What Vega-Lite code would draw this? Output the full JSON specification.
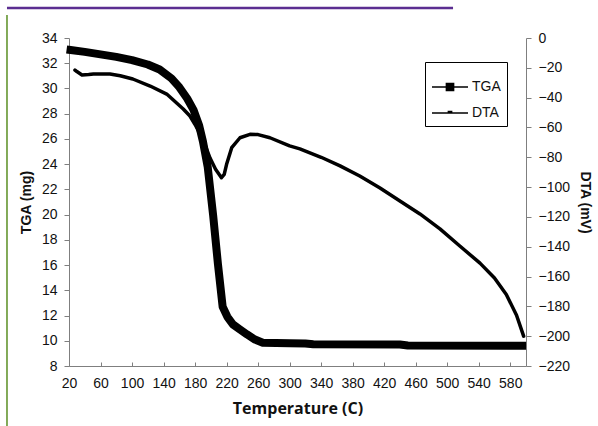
{
  "$schema": "https://vega.github.io/schema/vega-lite/v6.json",
  "autosize": "none",
  "width": 457,
  "height": 328,
  "padding": {"left": 69, "top": 38, "right": 72, "bottom": 60},
  "background": "white",
  "config": {
    "view": {"stroke": null},
    "font": "Liberation Sans",
    "axis": {
      "grid": false,
      "labelOverlap": false,
      "domainColor": "#7f7f7f",
      "tickColor": "#7f7f7f",
      "labelColor": "#111",
      "labelFont": "Liberation Sans",
      "labelFontSize": 14,
      "titleColor": "#111",
      "titleFont": "Liberation Sans",
      "titleFontSize": 14,
      "titleFontWeight": "bold"
    }
  },
  "datasets": {
    "tga": [
      {"T": 22, "TGA": 33.05}, {"T": 40, "TGA": 32.9}, {"T": 60, "TGA": 32.7},
      {"T": 80, "TGA": 32.5}, {"T": 100, "TGA": 32.25}, {"T": 120, "TGA": 31.9},
      {"T": 135, "TGA": 31.5}, {"T": 150, "TGA": 30.8}, {"T": 160, "TGA": 30.1},
      {"T": 170, "TGA": 29.2}, {"T": 178, "TGA": 28.3}, {"T": 185, "TGA": 27.1},
      {"T": 190, "TGA": 25.8}, {"T": 196, "TGA": 23.8}, {"T": 203, "TGA": 19.9},
      {"T": 209, "TGA": 16.1}, {"T": 215, "TGA": 12.7}, {"T": 221, "TGA": 11.9},
      {"T": 228, "TGA": 11.3}, {"T": 237, "TGA": 10.9}, {"T": 246, "TGA": 10.5},
      {"T": 256, "TGA": 10.1}, {"T": 266, "TGA": 9.85}, {"T": 300, "TGA": 9.8},
      {"T": 320, "TGA": 9.78}, {"T": 330, "TGA": 9.72}, {"T": 440, "TGA": 9.7},
      {"T": 450, "TGA": 9.62}, {"T": 595, "TGA": 9.6}
    ],
    "dta": [
      {"T": 27.6, "DTA": -21.5}, {"T": 30, "DTA": -22.5}, {"T": 36.5, "DTA": -24.8},
      {"T": 45, "DTA": -24.5}, {"T": 51, "DTA": -24.1}, {"T": 72, "DTA": -24.1},
      {"T": 85, "DTA": -25.3}, {"T": 101, "DTA": -27.5}, {"T": 123, "DTA": -32.2},
      {"T": 144, "DTA": -37.6}, {"T": 165, "DTA": -47.6}, {"T": 173.5, "DTA": -52.3},
      {"T": 180, "DTA": -58}, {"T": 190, "DTA": -68}, {"T": 199, "DTA": -80.5},
      {"T": 206, "DTA": -88}, {"T": 213.5, "DTA": -93.7}, {"T": 217, "DTA": -91.5},
      {"T": 220, "DTA": -84.7}, {"T": 226.5, "DTA": -73.6}, {"T": 237, "DTA": -66.9},
      {"T": 249.7, "DTA": -64.6}, {"T": 260, "DTA": -64.8}, {"T": 275, "DTA": -66.9},
      {"T": 300, "DTA": -72.4}, {"T": 313, "DTA": -74.4}, {"T": 340, "DTA": -80},
      {"T": 364, "DTA": -85.8}, {"T": 389, "DTA": -92.6}, {"T": 414.7, "DTA": -100.6},
      {"T": 440, "DTA": -109.3}, {"T": 465.4, "DTA": -118}, {"T": 490.8, "DTA": -128},
      {"T": 516, "DTA": -139.5}, {"T": 541.6, "DTA": -151}, {"T": 560, "DTA": -161},
      {"T": 575, "DTA": -172}, {"T": 588, "DTA": -186}, {"T": 597, "DTA": -200}
    ]
  },
  "layer": [
    {
      "data": {"name": "tga"},
      "mark": {"type": "line", "strokeWidth": 8, "strokeJoin": "round", "strokeCap": "square"},
      "encoding": {
        "x": {
          "field": "T", "type": "quantitative",
          "scale": {"domain": [20, 600], "nice": false, "zero": false},
          "axis": {
            "title": "Temperature (C)",
            "titleFont": "Open Sans", "titleFontSize": 16, "titleFontWeight": "bold",
            "values": [20, 60, 100, 140, 180, 220, 260, 300, 340, 380, 420, 460, 500, 540, 580],
            "labelOverlap": false, "labelFlush": false,
            "tickSize": -4, "labelPadding": 14, "titlePadding": 10
          }
        },
        "y": {
          "field": "TGA", "type": "quantitative",
          "scale": {"domain": [8, 34], "nice": false, "zero": false},
          "axis": {
            "title": "TGA (mg)",
            "values": [8, 10, 12, 14, 16, 18, 20, 22, 24, 26, 28, 30, 32, 34],
            "labelOverlap": false, "labelFlush": false,
            "tickSize": 5, "labelPadding": 7, "titlePadding": 8
          }
        },
        "color": {
          "datum": "TGA",
          "scale": {"domain": ["TGA", "DTA"], "range": ["black", "black"]},
          "legend": {
            "title": null,
            "orient": "none",
            "legendX": 356,
            "legendY": 24,
            "strokeColor": "black",
            "fillColor": "white",
            "padding": 6,
            "symbolSize": 1296,
            "symbolType": "M-1,0H1",
            "rowPadding": -8,
            "labelOffset": 3,
            "labelFont": "Liberation Sans",
            "labelFontSize": 14,
            "labelColor": "#111",
            "encode": {
              "symbols": {
                "update": {
                  "shape": {"signal": "datum.value === 'TGA' ? 'M-1,0H1M-0.2,-0.2H0.2V0.2H-0.2Z' : 'M-1,0H1M-0.09,-0.09H0.09V0H-0.09Z'"},
                  "fill": {"value": "black"},
                  "stroke": {"value": "black"},
                  "strokeWidth": {"value": 1.5},
                  "opacity": {"value": 1}
                }
              }
            }
          }
        }
      }
    },
    {
      "data": {"name": "dta"},
      "mark": {"type": "line", "strokeWidth": 3.5, "strokeJoin": "round", "strokeCap": "round"},
      "encoding": {
        "x": {
          "field": "T", "type": "quantitative",
          "axis": {
            "title": "Temperature (C)",
            "titleFont": "Open Sans", "titleFontSize": 16, "titleFontWeight": "bold",
            "values": [20, 60, 100, 140, 180, 220, 260, 300, 340, 380, 420, 460, 500, 540, 580],
            "labelOverlap": false, "labelFlush": false,
            "tickSize": -4, "labelPadding": 14, "titlePadding": 10
          }
        },
        "y": {
          "field": "DTA", "type": "quantitative",
          "scale": {"domain": [-220, 0], "nice": false, "zero": false},
          "axis": {
            "title": "DTA (mV)",
            "orient": "right",
            "values": [0, -20, -40, -60, -80, -100, -120, -140, -160, -180, -200, -220],
            "labelOverlap": false, "labelFlush": false,
            "tickSize": 5, "labelPadding": 7, "titlePadding": 8
          }
        },
        "color": {"datum": "DTA"}
      }
    },
    {
      "data": {"values": [{}]},
      "mark": {"type": "rule", "color": "#5b2e91", "strokeWidth": 2.5, "clip": false},
      "encoding": {
        "x": {
          "datum": -58.7, "type": "quantitative",
          "axis": {
            "title": "Temperature (C)",
            "titleFont": "Open Sans", "titleFontSize": 16, "titleFontWeight": "bold",
            "values": [20, 60, 100, 140, 180, 220, 260, 300, 340, 380, 420, 460, 500, 540, 580],
            "labelOverlap": false, "labelFlush": false,
            "tickSize": -4, "labelPadding": 14, "titlePadding": 10
          }
        },
        "x2": {"datum": 507.4},
        "y": {"datum": 36.38, "type": "quantitative", "axis": null, "scale": {"domain": [8, 34], "nice": false, "zero": false}}
      }
    },
    {
      "data": {"values": [{}]},
      "mark": {"type": "rule", "color": "#5a8f23", "strokeWidth": 1.5, "clip": false},
      "encoding": {
        "x": {
          "datum": -58.7, "type": "quantitative",
          "axis": {
            "title": "Temperature (C)",
            "titleFont": "Open Sans", "titleFontSize": 16, "titleFontWeight": "bold",
            "values": [20, 60, 100, 140, 180, 220, 260, 300, 340, 380, 420, 460, 500, 540, 580],
            "labelOverlap": false, "labelFlush": false,
            "tickSize": -4, "labelPadding": 14, "titlePadding": 10
          }
        },
        "y": {"datum": 35.82, "type": "quantitative", "axis": null, "scale": {"domain": [8, 34], "nice": false, "zero": false}},
        "y2": {"datum": 3.24}
      }
    }
  ],
  "resolve": {"scale": {"y": "independent"}}
}
